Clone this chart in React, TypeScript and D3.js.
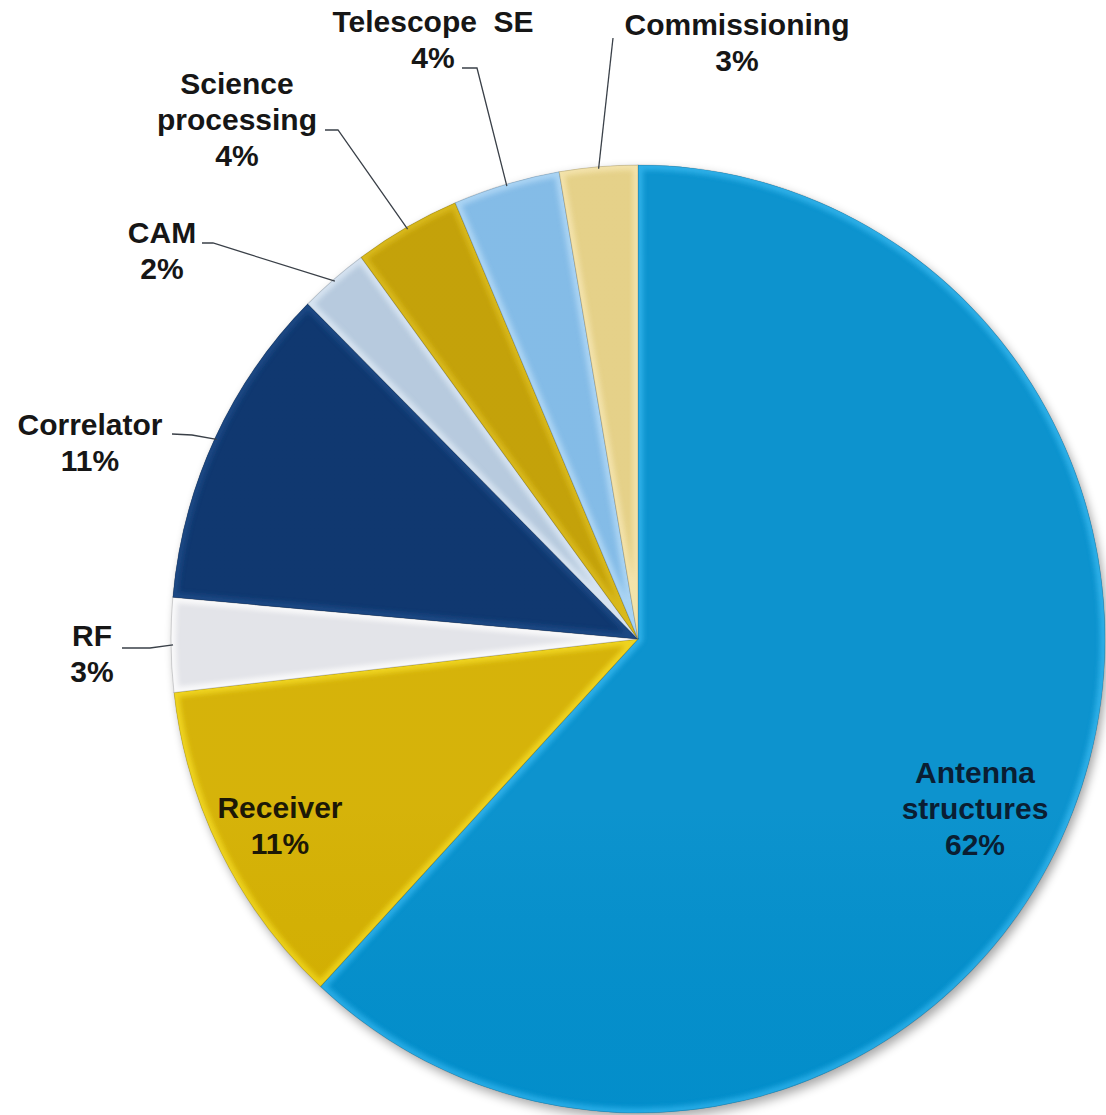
import React from "react";
import * as d3 from "d3";

const categories = [
  "Antenna structures",
  "Receiver",
  "RF",
  "Correlator",
  "CAM",
  "Science processing",
  "Telescope SE",
  "Commissioning",
];
const shares = [61.9, 11.3, 3.2, 11.1, 2.4, 3.7, 3.7, 2.7];
const labelLines = [
  ["Antenna", "structures"],
  ["Receiver"],
  ["RF"],
  ["Correlator"],
  ["CAM"],
  ["Science", "processing"],
  ["Telescope  SE"],
  ["Commissioning"],
];

const sliceColors = [
  "#038fcc",
  "#d4b000",
  "#e2e3e8",
  "#06306a",
  "#b4c8dd",
  "#c29e00",
  "#7fb9e6",
  "#e4cf84",
];
const highlightColors = [
  "#2fb4ee",
  "#f4da1a",
  "#ffffff",
  "#164584",
  "#dce8f4",
  "#dcbc18",
  "#b0d8f6",
  "#f6e6b0",
];

type Layout = { x: number; y: number; inside?: boolean; color?: string; line?: number[][] };
const labelLayout: Layout[] = [
  { x: 975, y: 783, inside: true, color: "#0a1e33" },
  { x: 280, y: 818, inside: true, color: "#1c1806" },
  { x: 92, y: 646, line: [[122, 648], [150, 648]] },
  { x: 90, y: 435, line: [[172, 434], [192, 435]] },
  { x: 162, y: 243, line: [[202, 243], [213, 243]] },
  { x: 237, y: 94, line: [[325, 130], [338, 130]] },
  { x: 433, y: 32, line: [[462, 68], [477, 68]] },
  { x: 737, y: 35, line: [[613, 38]] },
];

const W = 1106;
const H = 1115;
const cx = 638;
const cy = 639;
const r = 467;
const sy = 474 / 467;
const lineH = 36;

export default function App() {
  const total = d3.sum(shares);
  const pie = d3
    .pie<number>()
    .sort(null)
    .value((d) => d)
    .startAngle(0)
    .endAngle(2 * Math.PI);
  const arcs = pie(shares);
  const arc = d3.arc<d3.PieArcDatum<number>>().innerRadius(0).outerRadius(r);
  const pct = shares.map((v) => `${Math.round((v / total) * 100)}%`);

  const pointAt = (a: number, rad: number) => [
    cx + rad * Math.sin(a),
    cy - rad * Math.cos(a) * sy,
  ];

  return (
    <svg
      width={W}
      height={H}
      style={{ position: "absolute", left: 0, top: 0, background: "#fff" }}
      fontFamily="'Liberation Sans', Arial, sans-serif"
    >
      <defs>
        <filter id="shadow" x="-10%" y="-10%" width="120%" height="120%">
          <feGaussianBlur in="SourceAlpha" stdDeviation="5" />
          <feOffset dx="3" dy="5" result="b" />
          <feComponentTransfer>
            <feFuncA type="linear" slope="0.35" />
          </feComponentTransfer>
        </filter>
        <filter id="bevel" x="-5%" y="-5%" width="110%" height="110%">
          <feGaussianBlur stdDeviation="2.5" />
        </filter>
        <linearGradient id="shade" gradientUnits="userSpaceOnUse" x1="0" y1={cy - r * sy} x2="0" y2={cy + r * sy}>
          <stop offset="0" stopColor="#ffffff" stopOpacity="0.04" />
          <stop offset="0.4" stopColor="#000000" stopOpacity="0" />
          <stop offset="1" stopColor="#000000" stopOpacity="0.2" />
        </linearGradient>
        {arcs.map((a, i) => (
          <clipPath id={`clip${i}`} key={i}>
            <path d={arc(a) || ""} />
          </clipPath>
        ))}
      </defs>

      <g transform={`translate(${cx},${cy}) scale(1,${sy})`}>
        <circle r={r} fill="#000" filter="url(#shadow)" />
        {arcs.map((a, i) => (
          <g key={i}>
            <path d={arc(a) || ""} fill={sliceColors[i]} />
            <g clipPath={`url(#clip${i})`}>
              <path
                d={arc(a) || ""}
                fill="none"
                stroke={highlightColors[i]}
                strokeWidth={10}
                strokeLinejoin="round"
                filter="url(#bevel)"
                opacity={0.8}
              />
              <path d={arc(a) || ""} fill="url(#shade)" />
            </g>
            <path
              d={arc(a) || ""}
              fill="none"
              stroke="#000"
              strokeOpacity={0.15}
              strokeWidth={1}
            />
          </g>
        ))}
      </g>

      {arcs.map((a, i) => {
        const lay = labelLayout[i];
        const lines = [...labelLines[i], pct[i]];
        const mid = (a.startAngle + a.endAngle) / 2;
        let leader = null;
        if (lay.line) {
          const end = pointAt(mid, r - 2);
          const pts = [...lay.line, end];
          leader = (
            <polyline
              points={pts.map((p) => p.join(",")).join(" ")}
              fill="none"
              stroke="#3a4048"
              strokeWidth={1.3}
            />
          );
        }
        return (
          <g key={`l${i}`}>
            {leader}
            <text
              x={lay.x}
              y={lay.y}
              textAnchor="middle"
              fontSize={30}
              fontWeight="bold"
              fill={lay.color || "#161616"}
              style={{ whiteSpace: "pre" }}
            >
              {lines.map((t, j) => (
                <tspan key={j} x={lay.x} y={lay.y + j * lineH}>
                  {t}
                </tspan>
              ))}
            </text>
          </g>
        );
      })}
    </svg>
  );
}
